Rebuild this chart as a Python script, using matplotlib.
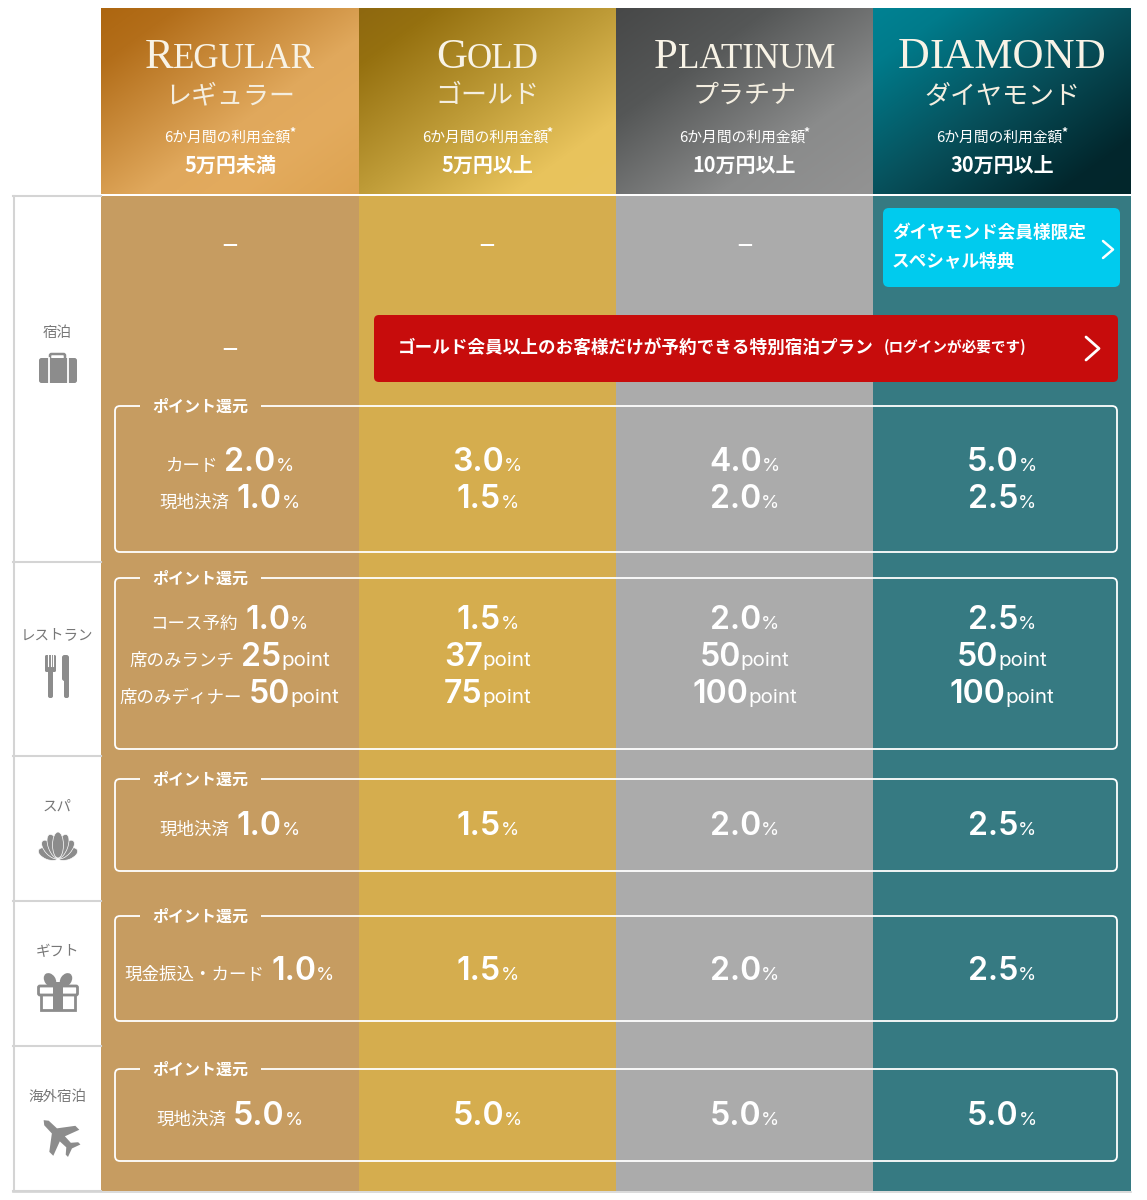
#!/usr/bin/env python3
"""Membership tier table: point rates per tier and category."""

import numpy as np
import matplotlib
matplotlib.use("Agg")
import matplotlib.pyplot as plt
from matplotlib.colors import to_rgb
from matplotlib.patches import Rectangle, FancyBboxPatch, PathPatch, Ellipse, Polygon
from matplotlib.path import Path

CJK = ["Noto Sans CJK JP", "DejaVu Sans"]
NUM = ["Inter", "Noto Sans CJK JP"]

# table data
tier_caps = [("R", "EGULAR"), ("G", "OLD"), ("P", "LATINUM"), ("D", "IAMOND")]
tier_ja = ["レギュラー", "ゴールド", "プラチナ", "ダイヤモンド"]
spend_label = "6か月間の利用金額"
spend = ["5万円未満", "5万円以上", "10万円以上", "30万円以上"]

categories = ["宿泊", "レストラン", "スパ", "ギフト", "海外宿泊"]
section_label = "ポイント還元"

hotel_card = ["2.0", "3.0", "4.0", "5.0"]
hotel_local = ["1.0", "1.5", "2.0", "2.5"]
rest_course = ["1.0", "1.5", "2.0", "2.5"]
rest_lunch = ["25", "37", "50", "50"]
rest_dinner = ["50", "75", "100", "100"]
spa_local = ["1.0", "1.5", "2.0", "2.5"]
gift_rate = ["1.0", "1.5", "2.0", "2.5"]
overseas_rate = ["5.0", "5.0", "5.0", "5.0"]

diamond_btn = ["ダイヤモンド会員様限定", "スペシャル特典"]
gold_btn = "ゴールド会員以上のお客様だけが予約できる特別宿泊プラン"
gold_btn_note = "(ログインが必要です)"

# layout, in pixels of the 1147x1200 picture
col_x = [101, 359, 616, 873, 1131]
col_colors = ["#c69c61", "#d5ad4e", "#ababab", "#367a82"]
row_y = [196, 562, 756, 901, 1046, 1191]
box_y = [(406, 552), (578, 749), (779, 871), (916, 1021), (1069, 1161)]
title_sizes = [(43, 35), (43, 35), (43, 35), (44, 43)]
grads = [
    [(0, "#ad6610"), (.15, "#b36e1a"), (.58, "#e0a85c"), (.75, "#e3ab5e"), (1, "#dda351")],
    [(0, "#8e680f"), (.15, "#95700f"), (.5, "#bf9c38"), (.8, "#e8c35c"), (1, "#e8c45e")],
    [(0, "#474848"), (.3, "#555757"), (.7, "#8a8b8b"), (1, "#939393")],
    [(0, "#008293"), (.15, "#007b8b"), (.5, "#07505b"), (.85, "#02272d"), (1, "#02262b")],
]

fig = plt.figure(figsize=(11.47, 12), dpi=100)
ax = fig.add_axes([0, 0, 1, 1])
renderer = fig.canvas.get_renderer()


def px(size):
    return size * 0.72


def txt(x, y, s, size, color="white", weight="normal", family=None, ha="center", va="baseline"):
    return ax.text(x, y, s, fontsize=px(size), color=color, fontweight=weight,
                   family=family or CJK, ha=ha, va=va)


def runs(cx, y, parts, gap=0):
    """Centre a row of (text, size, weight, family) pieces on one baseline."""
    items = [txt(0, y, s, size, weight=w, family=f, ha="left") for s, size, w, f in parts]
    widths = [t.get_window_extent(renderer).width for t in items]
    x = cx - (sum(widths) + gap) / 2
    for i, (t, w) in enumerate(zip(items, widths)):
        t.set_x(x)
        x += w
        if i == 0 and len(items) > 2:
            x += gap


def rate(cx, y, value, unit="%", label=None):
    parts = []
    if label:
        parts.append((label, 17.5, "normal", CJK))
    parts.append((value, 32, 600, NUM))
    if unit == "%":
        parts.append(("%", 18.5, "normal", NUM))
    else:
        parts.append(("point", 20.5, "normal", NUM))
    runs(cx, y, parts, gap=7 if label else 0)


def chevron(x0, x1, y0, y1, lw=1.8):
    ax.plot([x0, x1, x0], [y0, (y0 + y1) / 2, y1], color="white", lw=lw,
            solid_capstyle="round", zorder=3)


# headers
for i in range(4):
    x0, x1 = col_x[i], col_x[i + 1]
    yy, xx = np.mgrid[0:1:186j, 0:1:257j]
    t = (xx + yy) / 2
    pos = [p for p, _ in grads[i]]
    rgb = np.array([to_rgb(c) for _, c in grads[i]])
    img = np.dstack([np.interp(t, pos, rgb[:, k]) for k in range(3)])
    ax.imshow(img, extent=(x0, x1, 194, 8), aspect="auto", zorder=0)
    cx = (x0 + x1) / 2

    # small caps title
    big, small = tier_caps[i]
    a = txt(0, 68, big, title_sizes[i][0], color="#f8f3e6", family="Liberation Serif", ha="left")
    b = txt(0, 68, small, title_sizes[i][1], color="#f8f3e6", family="Liberation Serif", ha="left")
    wa = a.get_window_extent(renderer).width
    wb = b.get_window_extent(renderer).width
    a.set_x(cx - (wa + wb) / 2)
    b.set_x(cx - (wa + wb) / 2 + wa)

    txt(cx, 103, tier_ja[i], 26, color="#f4eee0")
    txt(cx - 2.5, 142, spend_label, 14.8)
    txt(cx + 62, 136, "*", 12, weight="bold")
    txt(cx, 172, spend[i], 20, weight="bold")

    # body column
    ax.add_patch(Rectangle((x0, 196), x1 - x0, 995, color=col_colors[i], lw=0, zorder=0))

# left label column
for y in row_y:
    ax.plot([13, 101], [y, y], color="#d4d4d4", lw=1.5, zorder=1)
ax.plot([14, 14], [196, 1191], color="#d4d4d4", lw=1.5, zorder=1)
ax.plot([13, 1131], [1191.5, 1191.5], color="#d4d4d4", lw=1.2, zorder=1)

label_y = [337, 639, 811, 956, 1101]
for name, y in zip(categories, label_y):
    txt(57.5, y, name, 14.5, color="#777777")

ICON = "#8c8c8c"
# suitcase
ax.add_patch(FancyBboxPatch((50, 354), 15, 8, boxstyle="round,pad=0,rounding_size=1.5",
                            fc="white", ec=ICON, lw=1.8))
ax.add_patch(FancyBboxPatch((39, 358), 38, 25, boxstyle="round,pad=0,rounding_size=2.5",
                            fc=ICON, ec="none"))
for x in (48.5, 67.5):
    ax.plot([x, x], [358, 383], color="white", lw=1.3)
# fork and knife
ax.add_patch(FancyBboxPatch((45, 655), 11, 17, boxstyle="round,pad=0,rounding_size=1.5",
                            fc=ICON, ec="none"))
for x in (48.2, 50.5, 52.8):
    ax.plot([x, x], [654, 666], color="white", lw=0.8)
ax.add_patch(FancyBboxPatch((48, 668), 5, 30, boxstyle="round,pad=0,rounding_size=2",
                            fc=ICON, ec="none"))
ax.add_patch(FancyBboxPatch((62, 655), 7, 26, boxstyle="round,pad=0,rounding_size=2.5",
                            fc=ICON, ec="none"))
ax.add_patch(FancyBboxPatch((64, 675), 5, 23, boxstyle="round,pad=0,rounding_size=2",
                            fc=ICON, ec="none"))
# lotus
for ang, ln in [(-68, 21), (68, 21), (-42, 23), (42, 23), (-20, 25), (20, 25), (0, 26)]:
    r = ln / 2
    cx = 58 + r * np.sin(np.radians(ang))
    cy = 858 - r * np.cos(np.radians(ang))
    ax.add_patch(Ellipse((cx, cy), 11, ln, angle=ang, fc=ICON, ec="white", lw=0.5))
# gift
ax.add_patch(Ellipse((50, 980), 11, 15, angle=-35, fc=ICON, ec="none"))
ax.add_patch(Ellipse((66, 980), 11, 15, angle=35, fc=ICON, ec="none"))
ax.add_patch(Rectangle((41, 993), 34, 16.5, fc="white", ec=ICON, lw=2))
ax.add_patch(FancyBboxPatch((38.5, 986), 39, 9, boxstyle="round,pad=0,rounding_size=1.5",
                            fc="white", ec=ICON, lw=2))
ax.add_patch(Rectangle((53, 982), 10, 29, fc=ICON, ec="none"))
# plane, drawn nose up and turned 45 degrees to the upper left
plane = np.array([(0, -28), (4, -23), (4.5, -9), (23, 5), (23, 12), (4.5, 5), (4, 16), (11, 22),
                  (11, 26), (0, 22), (-11, 26), (-11, 22), (-4, 16), (-4.5, 5), (-23, 12),
                  (-23, 5), (-4.5, -9), (-4, -23)], float)
c, s = np.cos(np.radians(-45)), np.sin(np.radians(-45))
plane = plane @ np.array([[c, s], [-s, c]]) * 0.8 + np.array([59.5, 1136])
ax.add_patch(Polygon(plane, closed=True, fc=ICON, ec="none"))

# dashes for tiers with no benefit
for x, y in [(230, 245), (487, 245), (745, 245), (230, 349)]:
    txt(x, y, "—", 15, va="center", weight="bold", family=["DejaVu Sans"])

# buttons
ax.add_patch(FancyBboxPatch((883, 208), 237, 79, boxstyle="round,pad=0,rounding_size=6",
                            fc="#00cbee", ec="none", zorder=2))
txt(892, 238, diamond_btn[0], 17.6, weight="bold", ha="left").set_zorder(3)
txt(892, 267, diamond_btn[1], 17.6, weight="bold", ha="left").set_zorder(3)
chevron(1103, 1113, 241, 258)
ax.add_patch(FancyBboxPatch((374, 315), 744, 67, boxstyle="round,pad=0,rounding_size=5",
                            fc="#c70c0c", ec="none", zorder=2))
txt(398, 353, gold_btn, 17.6, weight="bold", ha="left").set_zorder(3)
txt(884, 352, gold_btn_note, 14.6, weight="bold", ha="left").set_zorder(3)
chevron(1086, 1099, 337, 360, lw=2)

# point return frames with a gap for the section label
for top, bot in box_y:
    l, r, q = 115, 1117, 5
    verts = [(140, top), (l + q, top), (l, top), (l, top + q), (l, bot - q), (l, bot), (l + q, bot),
             (r - q, bot), (r, bot), (r, bot - q), (r, top + q), (r, top), (r - q, top), (261, top)]
    codes = [Path.MOVETO, Path.LINETO, Path.CURVE3, Path.CURVE3, Path.LINETO, Path.CURVE3, Path.CURVE3,
             Path.LINETO, Path.CURVE3, Path.CURVE3, Path.LINETO, Path.CURVE3, Path.CURVE3, Path.LINETO]
    ax.add_patch(PathPatch(Path(verts, codes), fc="none", ec="white", lw=1.3))
    txt(200, top + 6, section_label, 16, weight="bold")

# values, one column at a time
centers = [(col_x[i] + col_x[i + 1]) / 2 for i in range(4)]
centers[0] = 229.5
for i, cx in enumerate(centers):
    first = i == 0
    rate(cx, 471, hotel_card[i], label="カード" if first else None)
    rate(cx, 508, hotel_local[i], label="現地決済" if first else None)
    rate(cx, 629, rest_course[i], label="コース予約" if first else None)
    rate(cx, 666, rest_lunch[i], unit="point", label="席のみランチ" if first else None)
    rate(cx, 703, rest_dinner[i], unit="point", label="席のみディナー" if first else None)
    rate(cx, 835, spa_local[i], label="現地決済" if first else None)
    rate(cx, 980, gift_rate[i], label="現金振込・カード" if first else None)
    rate(cx, 1125, overseas_rate[i], label="現地決済" if first else None)

ax.set_xlim(0, 1147)
ax.set_ylim(1200, 0)
ax.axis("off")
fig.savefig("out.png", dpi=100, facecolor="white")
plt.close(fig)
